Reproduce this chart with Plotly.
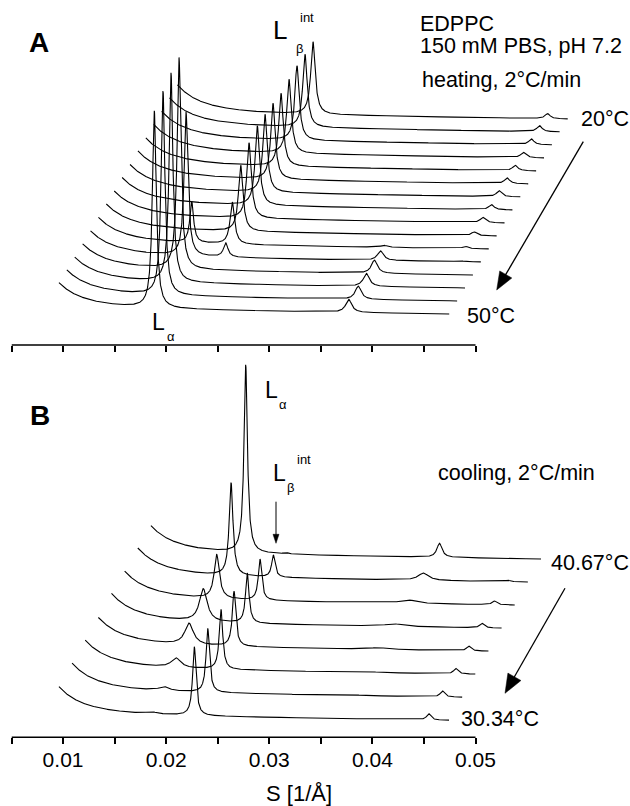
import numpy as np
import plotly.graph_objects as go

# ============================ DATA ============================
# S axis ticks (1/Å)
tick_vals = [0.005, 0.01, 0.015, 0.02, 0.025, 0.03, 0.035, 0.04, 0.045, 0.05]
tick_text_B = ["", "0.01", "", "0.02", "", "0.03", "", "0.04", "", "0.05"]

# ---- Panel A : heating 2 °C/min, curves listed front (50 °C) -> back (20 °C)
temps_A = [50, 48, 46, 44, 42, 40, 38, 36, 34, 32, 30, 28, 26, 24, 22, 20]
s_range_A = [0.0096, 0.04745]
# L_alpha 1st order (position 1/Å, height a.u.), 2nd order height
la_pos_A = [0.018849, 0.018927, 0.018937, 0.018946, 0.018859, 0.018645,
            0.0189, 0.0189, 0.0189, 0.0189, 0.0189, 0.0189, 0.0189, 0.0189, 0.0189, 0.0189]
la_h_A = [197, 204, 209, 211.5, 144, 41, 0, 0, 0, 0, 0, 0, 0, 0, 0, 0]
la2_h_A = [13, 13.3, 13, 13.3, 9.5, 2, 0, 0, 0, 0, 0, 0, 0, 0, 0, 0]
# L_beta^int 1st order (position, height), 2nd order height
lbi_pos_A = [0.0227, 0.0227, 0.0227, 0.0227, 0.022709, 0.022583, 0.022631, 0.02267,
             0.022709, 0.02269, 0.022699, 0.022709, 0.022719, 0.022728, 0.022738, 0.022748]
lbi_h_A = [0, 0, 0, 0, 14, 42, 66, 75.5, 79.5, 78, 76, 73, 74, 74.5, 73, 72.5]
lbi2_h_A = [0, 0, 0, 0, 1, 2.3, 3.7, 5.3, 5, 6, 5.7, 5.3, 5.3, 5.7, 6, 5]
# small-angle background amplitude
bg_amp_A = [25.3, 25, 24.7, 25, 25, 25.5, 26, 26, 26.5, 26.5, 27, 27, 27.5, 27.5, 28, 28]
# peak half widths (1/Å)
la_w_A, la2_w_A, lbi_w_A, lbi2_w_A = 0.00022, 0.00035, 0.00026, 0.0003

# ---- Panel B : cooling 2 °C/min, curves listed front (30.34 °C) -> back (40.67 °C)
end_labels_B = ["30.34°C", "40.67°C"]
s_range_B = [0.0096, 0.04743]
la_pos_B = [0.018597, 0.01852, 0.018403, 0.018394, 0.0185, 0.018529, 0.018646, 0.018791]
la_h_B = [1.9, 3.9, 9.6, 21.3, 32.7, 44, 93, 188]
la_w_B = [0.0006, 0.0006, 0.00055, 0.0005, 0.00045, 0.0003, 0.00022, 0.0002]
la2_h_B = [0, 0.5, 1, 1.7, 2.5, 3.5, 7.2, 14]
la2_w_B = [0.001, 0.001, 0.001, 0.001, 0.001, 0.0009, 0.0006, 0.0003]
lbi_pos_B = [0.022729, 0.022758, 0.022768, 0.022758, 0.022768, 0.022729, 0.022748, 0.0227]
lbi_h_B = [68.8, 64, 60, 55, 50, 41, 22, 1.5]
lbi2_h_B = [6.3, 6, 5.4, 4.7, 4.4, 3.7, 1.5, 0]
bg_amp_B = [27.6, 28, 28, 27.6, 28.7, 28, 28, 27.3]
lbi_w_B, lbi2_w_B = 0.0002, 0.00025

bg_tilt = 6.0

# ============================ LAYOUT CONSTANTS ============================
W, H = 630, 806
FONT = "Liberation Sans, Arial, sans-serif"
X_RANGE = [0.005, 0.0615]
X_DOMAIN = [11.5 / W, 594.1 / W]
# waterfall offsets
DX_A, STEP_A, BASE_A = 0.000766, 13.0, 31.0
DX_B, STEP_B, BASE_B = 0.0012744, 23.04, 17.0


def px(x):
    return x / W


def py(y):
    return 1 - y / H


def profile(S, amp, s_rng, peaks):
    s0, s1 = s_rng
    y = amp * (s0 / S) ** 4 + bg_tilt * (s1 - S) / (s1 - s0)
    for pos, h, w in peaks:
        y = y + h / (1 + ((S - pos) / w) ** 2)
    return y


fig = go.Figure()
line_style = dict(color="black", width=1.1)

S_A = np.linspace(s_range_A[0], s_range_A[1], 2600)
for k in range(len(temps_A)):
    pk = [(la_pos_A[k], la_h_A[k], la_w_A), (2 * la_pos_A[k], la2_h_A[k], la2_w_A),
          (lbi_pos_A[k], lbi_h_A[k], lbi_w_A), (2 * lbi_pos_A[k], lbi2_h_A[k], lbi2_w_A)]
    I = profile(S_A, bg_amp_A[k], s_range_A, pk)
    fig.add_trace(go.Scatter(x=S_A + k * DX_A, y=I + BASE_A + k * STEP_A, mode="lines",
                             line=line_style, xaxis="x", yaxis="y", hoverinfo="skip",
                             name=f"{temps_A[k]} °C"))

S_B = np.linspace(s_range_B[0], s_range_B[1], 2600)
for k in range(len(la_h_B)):
    pk = [(la_pos_B[k], la_h_B[k], la_w_B[k]), (2 * la_pos_B[k], la2_h_B[k], la2_w_B[k]),
          (lbi_pos_B[k], lbi_h_B[k], lbi_w_B), (2 * lbi_pos_B[k], lbi2_h_B[k], lbi2_w_B)]
    I = profile(S_B, bg_amp_B[k], s_range_B, pk)
    fig.add_trace(go.Scatter(x=S_B + k * DX_B, y=I + BASE_B + k * STEP_B, mode="lines",
                             line=line_style, xaxis="x2", yaxis="y2", hoverinfo="skip",
                             name=f"B curve {k}"))

axis_common = dict(domain=X_DOMAIN, range=X_RANGE, tickmode="array", tickvals=tick_vals,
                   ticks="outside", ticklen=6, tickwidth=1.5, tickcolor="black",
                   showgrid=False, zeroline=False, showline=False, fixedrange=True)

annotations = []


def text(s, x, y, size, xanchor="left"):
    annotations.append(dict(text=s, x=px(x), y=py(y), xref="paper", yref="paper",
                            xanchor=xanchor, yanchor="middle", showarrow=False, borderpad=0,
                            font=dict(size=size, family=FONT, color="black")))


# panel A texts
text("<b>A</b>", 39, 42, 28, "center")
text("L", 280, 30, 26, "center")
text("β", 299, 49, 13, "center")
text("int", 306.7, 17.5, 13, "center")
text("EDPPC", 419, 24.5, 21.5)
text("150 mM PBS, pH 7.2", 419, 46, 21.5)
text("heating, 2°C/min", 421, 79.6, 21.5)
text(f"{temps_A[-1]}°C", 580, 119.2, 21.5)
text(f"{temps_A[0]}°C", 466, 315.7, 21.5)
text("L", 158.3, 321.7, 23, "center")
text("α", 171.3, 336.7, 13, "center")
# panel B texts
text("<b>B</b>", 40, 415, 28, "center")
text("L", 271.7, 390, 23, "center")
text("α", 283.2, 404.2, 13, "center")
text("L", 279.3, 473.3, 23, "center")
text("β", 290, 487, 13, "center")
text("int", 304.2, 460, 13, "center")
text("cooling, 2°C/min", 437, 473.3, 21.5)
text(end_labels_B[1], 550, 563.3, 21.5)
text(end_labels_B[0], 460, 719.2, 21.5)
text("S [1/Å]", 299, 793, 22, "center")

shapes = []
for xr, yr in (("x", "y domain"), ("x2", "y2 domain")):
    shapes.append(dict(type="line", xref=xr, yref=yr, x0=0.005, x1=0.05, y0=0, y1=0,
                       line=dict(color="black", width=1.6)))


def arrow(tail, tip, head_len, half_w, lw):
    (x0, y0), (x1, y1) = tail, tip
    dx, dy = x1 - x0, y1 - y0
    L = (dx * dx + dy * dy) ** 0.5
    ux, uy = dx / L, dy / L
    bx, by = x1 - ux * head_len, y1 - uy * head_len
    nx, ny = -uy, ux
    shapes.append(dict(type="line", xref="paper", yref="paper",
                       x0=px(x0), y0=py(y0), x1=px(bx + ux * 2), y1=py(by + uy * 2),
                       line=dict(color="black", width=lw)))
    path = (f"M {px(x1)},{py(y1)} L {px(bx + nx * half_w)},{py(by + ny * half_w)} "
            f"L {px(bx - nx * half_w)},{py(by - ny * half_w)} Z")
    shapes.append(dict(type="path", xref="paper", yref="paper", path=path,
                       fillcolor="black", line=dict(color="black", width=0.5)))


arrow((583.3, 141.7), (496.7, 290), 18, 7, 1.3)
arrow((565, 588.3), (505, 693.3), 19, 7.5, 1.3)
arrow((276, 501.7), (276, 543.3), 9, 3, 1.0)

fig.update_layout(
    width=W, height=H, margin=dict(l=0, r=0, t=0, b=0),
    paper_bgcolor="white", plot_bgcolor="white", showlegend=False,
    font=dict(family=FONT, color="black", size=21),
    xaxis=dict(axis_common, anchor="y", showticklabels=False),
    yaxis=dict(domain=[py(345), py(5)], range=[0, 340], visible=False, fixedrange=True),
    xaxis2=dict(axis_common, anchor="y2", ticktext=tick_text_B, showticklabels=True,
                ticklabelstandoff=-3,
                tickfont=dict(size=21, family=FONT, color="black")),
    yaxis2=dict(domain=[py(737.3), py(355)], range=[0, 382.3], visible=False, fixedrange=True),
    annotations=annotations, shapes=shapes,
)

fig.write_html("out.html", config={"displayModeBar": False},
               post_script="document.body.style.margin='0';document.body.style.overflow='hidden';")
